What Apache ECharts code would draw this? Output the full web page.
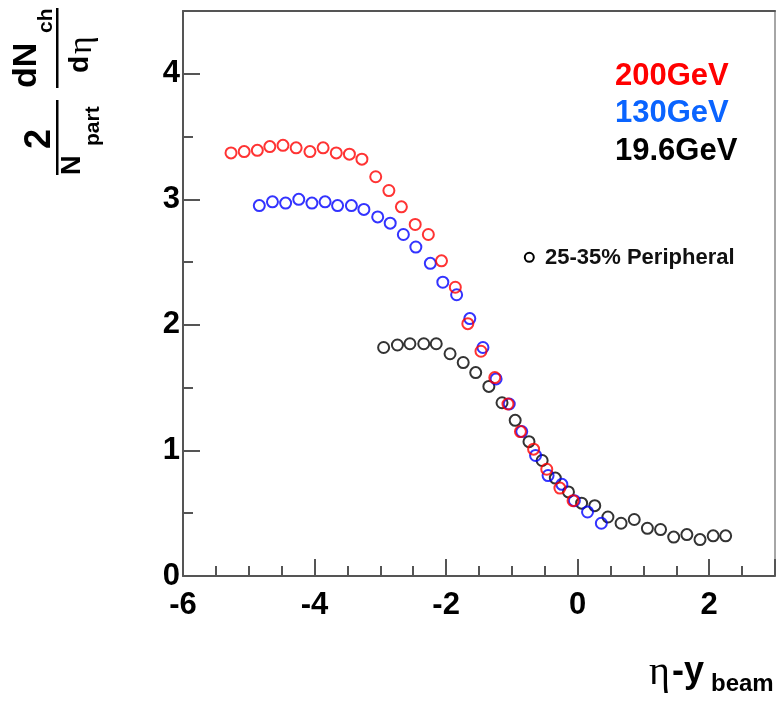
<!DOCTYPE html>
<html><head><meta charset="utf-8">
<script src="https://cdn.jsdelivr.net/npm/echarts@6/dist/echarts.min.js"></script>
<style>html,body{margin:0;padding:0;background:#fff}#c{width:776px;height:702px}</style>
</head><body><div id="c"></div>
<script>
// tick labels
const xTickLabels = [-6, -4, -2, 0, 2];
const yTickLabels = [0, 1, 2, 3, 4];
// series names
const seriesNames = ['200GeV', '130GeV', '19.6GeV'];
// 200 GeV
const x200 = [-5.27,-5.07,-4.87,-4.68,-4.48,-4.28,-4.07,-3.87,-3.67,-3.47,-3.28,-3.07,-2.87,-2.68,-2.47,-2.27,-2.07,-1.86,-1.67,-1.47,-1.26,-1.06,-0.87,-0.67,-0.47,-0.27,-0.07];
const y200 = [3.37,3.38,3.39,3.42,3.43,3.41,3.38,3.41,3.37,3.36,3.32,3.18,3.07,2.94,2.80,2.72,2.51,2.30,2.01,1.79,1.58,1.37,1.15,1.01,0.85,0.70,0.60];
// 130 GeV
const x130 = [-4.84,-4.64,-4.44,-4.24,-4.04,-3.84,-3.65,-3.44,-3.25,-3.04,-2.85,-2.65,-2.46,-2.24,-2.05,-1.84,-1.64,-1.44,-1.24,-1.04,-0.85,-0.64,-0.45,-0.24,-0.05,0.15,0.36];
const y130 = [2.95,2.98,2.97,3.00,2.97,2.98,2.95,2.95,2.92,2.86,2.81,2.72,2.62,2.49,2.34,2.24,2.05,1.82,1.57,1.37,1.15,0.96,0.80,0.73,0.60,0.51,0.42];
// 19.6 GeV
const x19 = [-2.95,-2.74,-2.55,-2.34,-2.15,-1.94,-1.74,-1.55,-1.35,-1.15,-0.95,-0.74,-0.54,-0.34,-0.14,0.06,0.26,0.46,0.66,0.86,1.06,1.26,1.46,1.66,1.86,2.06,2.25];
const y19 = [1.82,1.84,1.85,1.85,1.85,1.77,1.70,1.62,1.51,1.38,1.24,1.07,0.92,0.78,0.67,0.58,0.56,0.47,0.42,0.45,0.38,0.37,0.31,0.33,0.29,0.32,0.32];

const zip = (xs, ys) => xs.map((x, i) => [x, ys[i]]);
const F = '"Liberation Sans", Arial, Helvetica, sans-serif';
const axisColor = '#555';

function scatter(name, xs, ys, color) {
  return {
    type: 'scatter', name: name, data: zip(xs, ys),
    symbol: 'circle', symbolSize: 11,
    itemStyle: { color: 'rgba(0,0,0,0)', borderColor: color, borderWidth: 2 },
    emphasis: { disabled: true }, silent: true
  };
}

const chart = echarts.init(document.getElementById('c'), null, { renderer: 'canvas' });
const option = {
  animation: false,
  backgroundColor: '#fff',
  grid: { left: 183, right: 1, top: 11, bottom: 126, containLabel: false },
  xAxis: [{
    type: 'value', min: -6, max: 3, interval: 2,
    axisLine: { show: true, onZero: false, lineStyle: { color: axisColor, width: 2 } },
    axisTick: { show: true, inside: true, length: 17, lineStyle: { color: axisColor, width: 2 } },
    minorTick: { show: true, splitNumber: 4, length: 10, lineStyle: { color: axisColor, width: 2 } },
    splitLine: { show: false },
    axisLabel: {
      showMaxLabel: false, margin: 14,
      color: '#000', fontFamily: F, fontWeight: 'bold', fontSize: 31,
      formatter: v => xTickLabels.indexOf(v) >= 0 ? String(v) : ''
    }
  }, {
    type: 'value', min: -6, max: 3, position: 'top',
    axisLine: { show: true, onZero: false, lineStyle: { color: axisColor, width: 2 } },
    axisTick: { show: false }, axisLabel: { show: false }, splitLine: { show: false }
  }],
  yAxis: [{
    type: 'value', min: 0, max: 4.5, interval: 1,
    axisLine: { show: true, onZero: false, lineStyle: { color: axisColor, width: 2 } },
    axisTick: { show: true, inside: true, length: 17, lineStyle: { color: axisColor, width: 2 } },
    minorTick: { show: true, splitNumber: 2, length: 10, lineStyle: { color: axisColor, width: 2 } },
    splitLine: { show: false },
    axisLabel: {
      showMaxLabel: false, margin: 3,
      color: '#000', fontFamily: F, fontWeight: 'bold', fontSize: 31,
      formatter: v => yTickLabels.indexOf(v) >= 0 ? String(v) : ''
    }
  }, {
    type: 'value', min: 0, max: 4.5, position: 'right',
    axisLine: { show: true, onZero: false, lineStyle: { color: '#888', width: 1.5 } },
    axisTick: { show: false }, axisLabel: { show: false }, splitLine: { show: false }
  }],
  series: [
    scatter(seriesNames[2], x19, y19, '#000'),
    scatter(seriesNames[1], x130, y130, '#0000ff'),
    scatter(seriesNames[0], x200, y200, '#ff0000')
  ],
  graphic: [
    { type: 'text', x: 615, y: 76, style: { text: seriesNames[0], fill: '#ff0000', font: 'bold 31px ' + F, verticalAlign: 'middle' } },
    { type: 'text', x: 615, y: 113.5, style: { text: seriesNames[1], fill: '#0a64ff', font: 'bold 31px ' + F, verticalAlign: 'middle' } },
    { type: 'text', x: 615, y: 151.5, style: { text: seriesNames[2], fill: '#000', font: 'bold 31px ' + F, verticalAlign: 'middle' } },
    { type: 'circle', shape: { cx: 529.3, cy: 257.3, r: 4.5 }, style: { fill: 'none', stroke: '#000', lineWidth: 2 } },
    { type: 'text', x: 545, y: 258, style: { text: '25-35% Peripheral', fill: '#111', font: 'bold 22px ' + F, verticalAlign: 'middle' } },
    // x axis title
    { type: 'text', x: 649, y: 673, style: { text: 'η', fill: '#000', font: '40px "Liberation Serif", serif', verticalAlign: 'middle' } },
    { type: 'text', x: 672, y: 672, style: { text: '-y', fill: '#000', font: 'bold 36px ' + F, verticalAlign: 'middle' } },
    { type: 'text', x: 711, y: 684, style: { text: 'beam', fill: '#000', font: 'bold 24px ' + F, verticalAlign: 'middle' } },
    // y axis title (rotated group)
    { type: 'group', x: 0, y: 178, rotation: Math.PI / 2, children: [
      { type: 'text', x: 39, y: 40, style: { text: '2', fill: '#000', font: 'bold 36px ' + F, align: 'center', verticalAlign: 'middle' } },
      { type: 'rect', shape: { x: 3, y: 56, width: 75, height: 2.5 }, style: { fill: '#000' } },
      { type: 'text', x: 3, y: 73, style: { text: 'N', fill: '#000', font: 'bold 27px ' + F, verticalAlign: 'middle' } },
      { type: 'text', x: 32, y: 93, style: { text: 'part', fill: '#000', font: 'bold 21px ' + F, verticalAlign: 'middle' } },
      { type: 'text', x: 90, y: 27, style: { text: 'dN', fill: '#000', font: 'bold 34px ' + F, verticalAlign: 'middle' } },
      { type: 'text', x: 145, y: 46, style: { text: 'ch', fill: '#000', font: 'bold 21px ' + F, verticalAlign: 'middle' } },
      { type: 'rect', shape: { x: 90, y: 56, width: 80, height: 2.5 }, style: { fill: '#000' } },
      { type: 'text', x: 105, y: 80, style: { text: 'd', fill: '#000', font: 'bold 28px ' + F, verticalAlign: 'middle' } },
      { type: 'text', x: 124, y: 82, style: { text: 'η', fill: '#000', font: '34px "Liberation Serif", serif', verticalAlign: 'middle' } }
    ] }
  ]
};
chart.setOption(option);
</script>
</body></html>
